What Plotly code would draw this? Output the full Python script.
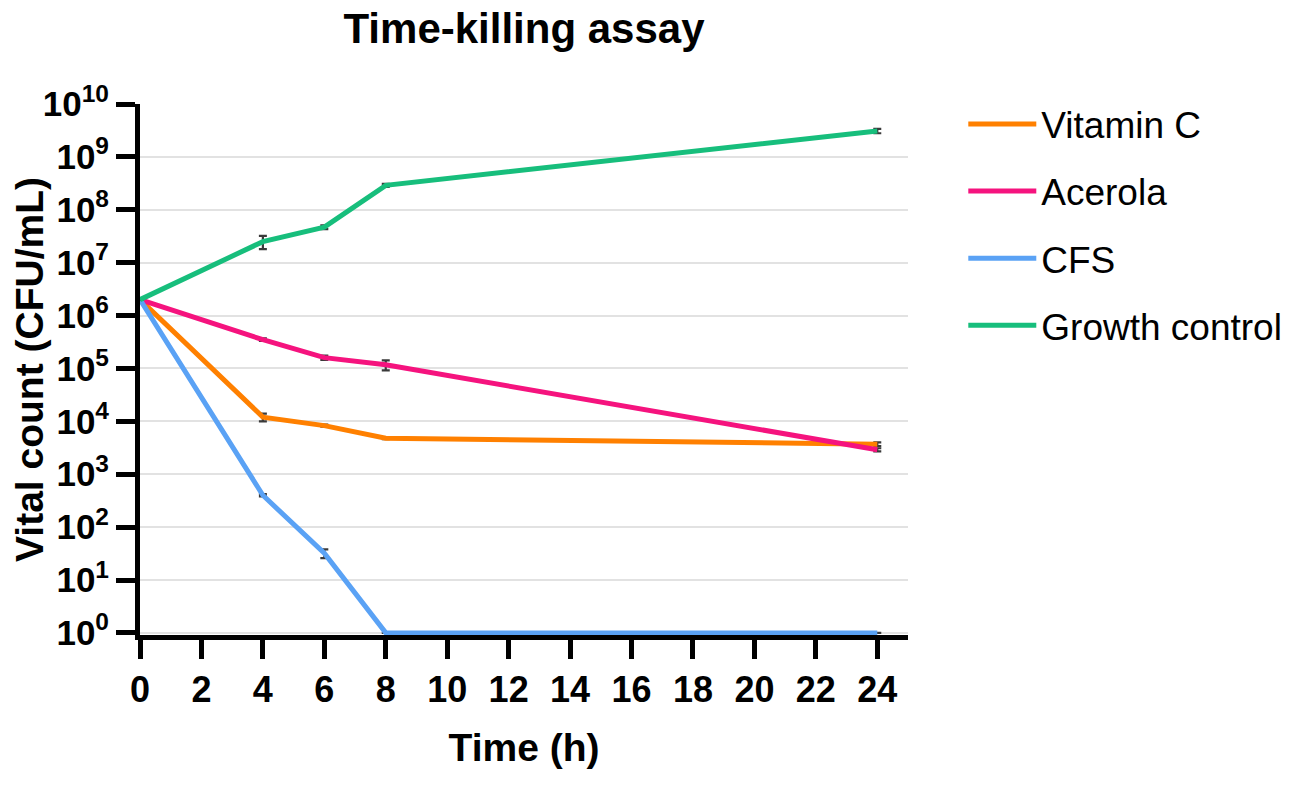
import plotly.graph_objects as go

time_h = [0, 4, 6, 8, 24]

series_names = ["Vitamin C", "Acerola", "CFS", "Growth control"]
vitamin_c = [2.0e6, 1.2e4, 8.3e3, 4.8e3, 3.7e3]
vitamin_c_err = [0, 2.0e3, 4.0e2, 2.0e2, 3.0e2]
acerola = [2.0e6, 3.5e5, 1.6e5, 1.17e5, 2.9e3]
acerola_err = [0, 2.0e4, 1.5e4, 2.5e4, 2.0e2]
cfs = [2.0e6, 4.0e2, 32, 1, 1]
cfs_err = [0, 20, 6, 0, 0]
growth = [2.0e6, 2.5e7, 4.7e7, 2.9e8, 3.1e9]
growth_err = [0, 7.0e6, 4.0e6, 2.0e7, 3.0e8]

colors = ["#FF8000", "#F5137E", "#5AA2F5", "#17BE7C"]

x_ticks = list(range(0, 25, 2))
y_exponents = list(range(0, 11))

fig = go.Figure()
for name, vals, errs, col in zip(series_names,
                                  [vitamin_c, acerola, cfs, growth],
                                  [vitamin_c_err, acerola_err, cfs_err, growth_err],
                                  colors):
    fig.add_trace(go.Scatter(
        x=time_h, y=vals, name=name, mode="lines", legendgroup=name,
        line=dict(color=col, width=5),
        error_y=dict(type="data", array=errs, visible=True,
                     color="#3a3a3a", thickness=2.2, width=4),
        cliponaxis=False,
    ))

font_family = "Liberation Sans, Arial, sans-serif"

fig.update_layout(
    width=1290, height=778,
    margin=dict(l=132, r=390, t=96, b=151, autoexpand=False),
    paper_bgcolor="white", plot_bgcolor="white",
    title=dict(text="<b>Time-killing assay</b>", x=0.4, xanchor="center",
               y=0.974, yanchor="middle",
               font=dict(family=font_family, size=42, color="black")),
    font=dict(family=font_family, color="black"),
    legend=dict(x=1.072, y=1.02, xanchor="left", yanchor="top",
                font=dict(family=font_family, size=37, color="black"),
                itemwidth=68, traceorder="grouped", tracegroupgap=16,
                bgcolor="rgba(0,0,0,0)"),
    showlegend=True,
)

fig.update_xaxes(
    range=[0, 25], tickvals=x_ticks, ticktext=[f"<b>{v}</b>" for v in x_ticks],
    showline=True, linecolor="black", linewidth=5, layer="below traces",
    ticks="outside", ticklen=19, tickwidth=4.5, tickcolor="black",
    ticklabelstandoff=0,
    showgrid=False, zeroline=False, automargin=False,
    tickfont=dict(family=font_family, size=36, color="black"),
    title=dict(text="<b>Time (h)</b>", standoff=26,
               font=dict(family=font_family, size=39, color="black")),
)

fig.update_yaxes(
    type="log", range=[-0.04, 10],
    tickvals=[10 ** e for e in y_exponents],
    ticktext=[f"<b>10<sup>{e}</sup></b>" for e in y_exponents],
    showline=True, linecolor="black", linewidth=5, layer="below traces",
    ticks="outside", ticklen=19, tickwidth=4.5, tickcolor="black",
    ticklabelstandoff=0,
    showgrid=True, gridcolor="#e2e2e2", gridwidth=1.5, zeroline=False,
    automargin=False,
    tickfont=dict(family=font_family, size=35, color="black"),
    title=dict(text="<b>Vital count (CFU/mL)</b>", standoff=2,
               font=dict(family=font_family, size=39, color="black")),
)

fig.write_html("out.html")
